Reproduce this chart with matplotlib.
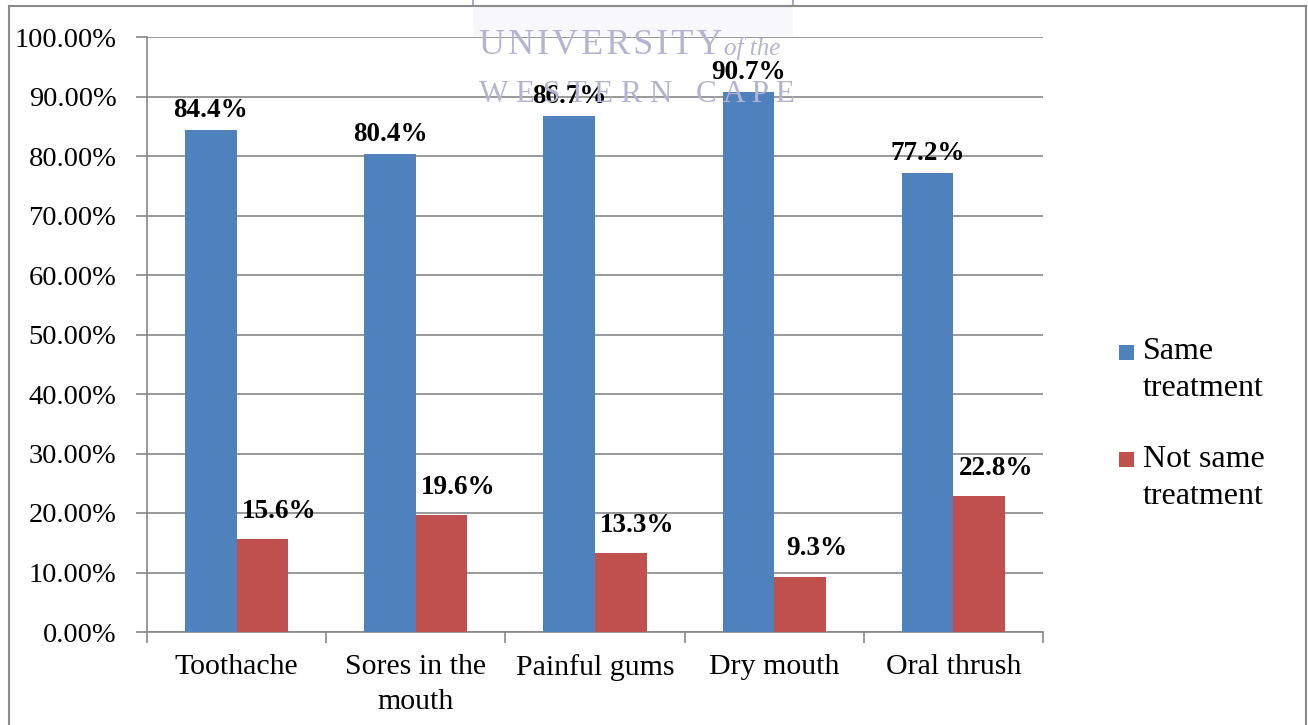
import matplotlib.pyplot as plt
from matplotlib.patches import Rectangle
import numpy as np

plt.rcParams['font.family'] = ['Liberation Serif', 'DejaVu Serif']

categories = ["Toothache", "Sores in the\nmouth", "Painful gums", "Dry mouth", "Oral thrush"]
same = [84.4, 80.4, 86.7, 90.7, 77.2]
not_same = [15.6, 19.6, 13.3, 9.3, 22.8]
series_names = ["Same\ntreatment", "Not same\ntreatment"]
yticks = np.arange(0, 101, 10)

blue = "#4F81BD"
red = "#C0504D"
grid_c = "#878787"
W, H = 1308, 725

fig = plt.figure(figsize=(13.08, 7.25), dpi=100)
ax = fig.add_axes([147 / W, 1 - 632 / H, 896 / W, 595 / H])

x = np.arange(len(categories))
w = 0.288
b1 = ax.bar(x - w / 2, same, w, color=blue, zorder=3)
b2 = ax.bar(x + w / 2, not_same, w, color=red, zorder=3)

for xi, v in zip(x - w / 2, same):
    ax.annotate(f"{v:.1f}%", (xi, v), xytext=(0, 5), textcoords="offset points",
                ha="center", va="bottom", fontsize=19.5, fontweight="bold", zorder=5)
for xi, v in zip(x + w / 2, not_same):
    ax.annotate(f"{v:.1f}%", (xi, v), xytext=(12, 11), textcoords="offset points",
                ha="center", va="bottom", fontsize=19.5, fontweight="bold", zorder=5)

ax.set_xlim(-0.5, len(categories) - 0.5)
ax.set_ylim(0, 100)
ax.set_yticks(yticks)
ax.set_yticklabels([f"{t:.2f}%" for t in yticks], fontsize=20.5)
ax.yaxis.grid(True, color=grid_c, linewidth=1.2, zorder=0)

# category labels sit between the boundary ticks
ax.set_xticks(np.arange(-0.5, len(categories), 1.0))
ax.set_xticklabels([])
ax.set_xticks(x, minor=True)
ax.set_xticklabels(categories, minor=True, fontsize=21.5, linespacing=1.45)
ax.tick_params(axis="x", which="minor", length=0, pad=16)
ax.tick_params(axis="x", which="major", length=8, color=grid_c, width=1.2)
ax.tick_params(axis="y", length=8, color=grid_c, width=1.2, pad=14)

for s in ["top", "right"]:
    ax.spines[s].set_visible(False)
for s in ["left", "bottom"]:
    ax.spines[s].set_color(grid_c)
    ax.spines[s].set_linewidth(1.2)

# legend: square keyed to the first line of each label
for name, col, ysq, ytxt in zip(series_names, [blue, red], [345, 452], [370, 478]):
    fig.patches.append(Rectangle((1119 / W, 1 - (ysq + 15) / H), 15 / W, 15 / H,
                                 transform=fig.transFigure, facecolor=col,
                                 edgecolor="none"))
    fig.text(1143 / W, 1 - ytxt / H, name, fontsize=23, va="center", ha="left",
             linespacing=1.4)

# watermark
wm = "#b4b4d2"
fig.patches.append(Rectangle((473 / W, 1 - 36 / H), 320 / W, 30 / H,
                             transform=fig.transFigure, facecolor="#f8f8fc",
                             edgecolor="none", zorder=0))
fig.patches.append(Rectangle((473 / W, 1 - 6 / H), 320 / W, 10 / H,
                             transform=fig.transFigure, facecolor="none",
                             edgecolor="#a8a8c8", linewidth=1.5, zorder=0))
fig.text(479 / W, 1 - 46 / H, "\u200a".join("UNIVERSITY"), fontsize=26, color=wm,
         va="center", ha="left", zorder=6)
fig.text(724 / W, 1 - 49 / H, "of the", fontsize=18, color=wm, style="italic",
         va="center", ha="left", zorder=6)
fig.text(479 / W, 1 - 95 / H, "W E S T E R N   C A P E", fontsize=22.5, color=wm,
         va="center", ha="left", zorder=6)

# outer frame
fig.patches.append(Rectangle((9 / W, -0.05), 1297 / W, 1.05 - 6 / H,
                             transform=fig.transFigure, fill=False,
                             edgecolor="#8a8a8a", linewidth=1.5))

fig.savefig("out.png", dpi=100)
